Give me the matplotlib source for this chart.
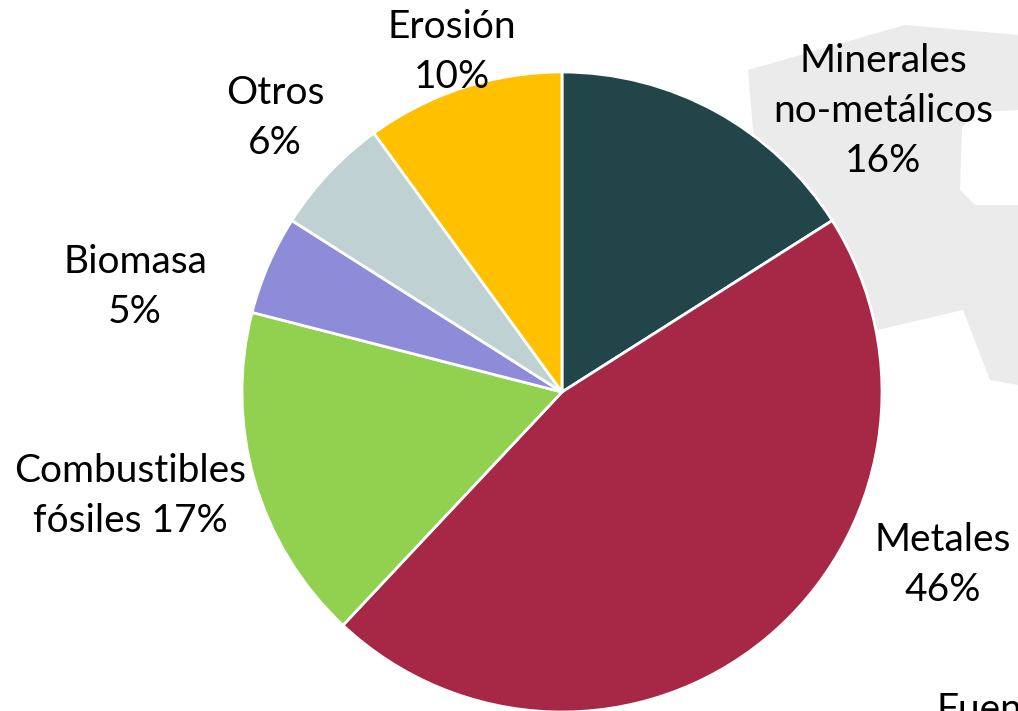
import matplotlib
matplotlib.use("Agg")
import matplotlib.pyplot as plt
from matplotlib.patches import Polygon

# data
categorias = ["Minerales\nno-metálicos", "Metales", "Combustibles\nfósiles", "Biomasa", "Otros", "Erosión"]
porcentajes = [16, 46, 17, 5, 6, 10]
colores = ["#214549", "#A62846", "#92D050", "#8E8CD8", "#BFD1D3", "#FFC000"]

W, H = 1018, 711
plt.rcParams['font.family'] = ['Lato', 'DejaVu Sans']

fig = plt.figure(figsize=(W / 100, H / 100), dpi=100)
ax = fig.add_axes([0, 0, 1, 1])


def py(y):
    # pixel row from top -> axes y
    return H - y


# faint watermark in the background
marca = [(748, 70), (905, 25), (1018, 35), (1018, 110), (975, 112), (962, 128),
         (960, 190), (975, 205), (1018, 205), (1018, 385), (990, 380), (963, 310),
         (877, 330), (770, 330)]
ax.add_patch(Polygon([(x, py(y)) for x, y in marca], closed=True,
                     facecolor="#ebebeb", edgecolor="none", zorder=0))

ax.pie(porcentajes, colors=colores, startangle=90, counterclock=False,
       center=(562, py(392)), radius=320, frame=True,
       wedgeprops=dict(edgecolor="white", linewidth=2))
ax.set_xlim(0, W)
ax.set_ylim(0, H)
ax.axis("off")

# label positions (pixel centre)
pos = [(883, 111), (943, 565), (130, 496), (135, 287), (275, 118), (452, 52)]
textos = ["Minerales\nno-metálicos\n16%", "Metales\n46%", "Combustibles\nfósiles 17%",
          "Biomasa\n5%", "Otros\n6%", "Erosión\n10%"]
for (x, y), t in zip(pos, textos):
    ax.text(x, py(y), t, ha="center", va="center", fontsize=28, linespacing=1.5,
            color="black", zorder=5)

ax.text(937, py(692), "Fuente", ha="left", va="top", fontsize=28, color="black")

fig.savefig("out.png", dpi=100)
